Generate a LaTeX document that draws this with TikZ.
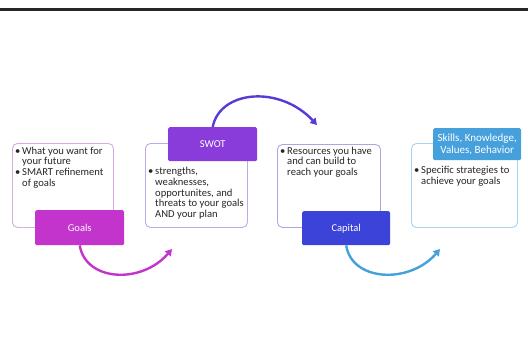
\documentclass[tikz,border=0pt]{standalone}
\usepackage{fontspec}
\setmainfont{Carlito}
\usetikzlibrary{arrows.meta}

\definecolor{goalsfill}{HTML}{C334CC}
\definecolor{goalsline}{HTML}{DBA8E4}
\definecolor{swotfill}{HTML}{8A3CDA}
\definecolor{swotline}{HTML}{C0A8EA}
\definecolor{swotarc}{HTML}{5A3AD6}
\definecolor{capfill}{HTML}{3C43D8}
\definecolor{capline}{HTML}{AAA8E4}
\definecolor{skillfill}{HTML}{45A0DC}
\definecolor{skillline}{HTML}{A8D2EE}

\tikzset{
	infobox/.style={rectangle, rounded corners=5pt, draw, line width=0.9pt, fill=white, anchor=north west, inner sep=0pt},
	tagbox/.style={rectangle, rounded corners=1.5pt, text=white, anchor=north west, inner sep=0pt, align=center, font=\fontsize{10.5}{12.3}\selectfont},
	bullets/.style={anchor=north west, inner sep=0pt, text=black!85, font=\fontsize{10.6}{10.7}\selectfont},
	flow/.style={line width=2.4pt, -{Triangle[length=6.5pt, width=7.5pt]}}
}

\begin{document}
\begin{tikzpicture}[x=1pt, y=-1pt]
		\useasboundingbox (0, 0) rectangle (528, 360);
		\draw[line width=3pt, black!85] (0, 9) -- (528, 9);
		% boxes with the bullet lists
		\node[infobox, draw=goalsline, minimum width=101pt, minimum height=84pt] (goalsbox) at (12, 143) {};
		\node[infobox, draw=swotline, minimum width=102pt, minimum height=84pt] (swotbox) at (145, 143) {};
		\node[infobox, draw=capline, minimum width=103pt, minimum height=83pt] (capbox) at (277, 144) {};
		\node[infobox, draw=skillline, minimum width=106pt, minimum height=84pt] (skillbox) at (411, 143) {};
		\node[bullets] (goalstxt) at (15, 146.5) {\begin{tabular}{@{}l@{\,}l@{}} \textbullet & What you want for\\ & your future\\ \textbullet & SMART refinement\\ & of goals\end{tabular}};
		\node[bullets] (swottxt) at (148, 167) {\begin{tabular}{@{}l@{\,}l@{}} \textbullet & strengths,\\ & weaknesses,\\ & opportunites, and\\ & threats to your goals\\ & AND your plan\end{tabular}};
		\node[bullets] (captxt) at (280, 146.5) {\begin{tabular}{@{}l@{\,}l@{}} \textbullet & Resources you have\\ & and can build to\\ & reach your goals\end{tabular}};
		\node[bullets] (skilltxt) at (414, 166) {\begin{tabular}{@{}l@{\,}l@{}} \textbullet & Specific strategies to\\ & achieve your goals\end{tabular}};
		% coloured tags
		\node[tagbox, fill=goalsfill, minimum width=89pt, minimum height=35pt] (goalstag) at (35, 210) {Goals};
		\node[tagbox, fill=swotfill, minimum width=89pt, minimum height=34pt] (swottag) at (168, 127) {SWOT};
		\node[tagbox, fill=capfill, minimum width=88pt, minimum height=34pt] (captag) at (302, 211) {Capital};
		\node[tagbox, fill=skillfill, minimum width=88pt, minimum height=32pt, font=\fontsize{11}{12.3}\selectfont] (skilltag) at (433, 128) {Skills, Knowledge,\\ Values, Behavior};
		% curved arrows
		\coordinate (goalsend) at (172, 249);
		\coordinate (swotend) at (317, 125);
		\coordinate (capend) at (440, 249);
		\draw[flow, goalsfill] (goalstag.south) .. controls (86, 282) and (142, 284) .. (goalsend);
		\draw[flow, swotarc] (swottag.north) .. controls (220, 90) and (280, 85) .. (swotend);
		\draw[flow, skillfill] (captag.south) .. controls (352, 282) and (410, 284) .. (capend);
	\end{tikzpicture}
\end{document}
